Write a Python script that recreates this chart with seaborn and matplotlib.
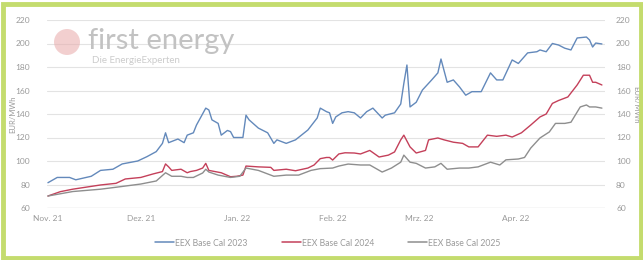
import pandas as pd
import numpy as np
import matplotlib
matplotlib.use("Agg")
import matplotlib.pyplot as plt
from matplotlib.patches import Rectangle, Circle
from matplotlib.lines import Line2D
import seaborn as sns

sns.set_theme(style="white")
plt.rcParams['font.family'] = ['Lato', 'DejaVu Sans']

# ==========================
#  Data
# ==========================
start = pd.Timestamp("2021-11-01")

days_2023 = [0, 3, 7, 9, 14, 17, 21, 24, 29, 32, 35, 37, 38, 39, 42, 44, 45, 47, 48, 51,
             52, 53, 55, 56, 58, 59, 60, 63, 64, 65, 68, 71, 73, 74, 77, 80, 84, 87, 88, 90,
             91, 92, 93, 95, 97, 99, 101, 103, 105, 108, 109, 112, 114, 115, 116, 117, 119, 121, 124, 126,
             127, 129, 131, 133, 135, 137, 140, 143, 145, 147, 150, 152, 155, 158, 159, 161, 163, 165, 167, 169,
             171, 174, 175, 176, 177, 179]
cal_2023 = [81.5, 86, 86, 84, 87, 92, 93, 97.5, 100, 103.7, 108, 115, 124, 115.6, 118.7, 115.6, 122, 124, 130.6, 145,
            143.4, 135, 132, 122, 126, 125, 120, 120, 139, 135, 128, 124, 115, 118, 115, 118, 126.4, 136.6, 145, 142,
            141, 132, 137.5, 141, 142, 141, 136.6, 142, 145, 136.6, 139, 141, 148.5, 166, 181.7, 146, 150, 160.4, 169, 175,
            186.8, 167, 169, 163, 156, 159, 159, 175, 169, 169, 186, 183, 192, 193, 194.5, 193, 200, 198.7, 196, 194.5,
            204.7, 205.5, 203, 197, 200.4, 199.6]

days_2024 = [0, 4, 8, 13, 17, 22, 25, 30, 34, 37, 38, 39, 40, 43, 45, 46, 48, 50, 51, 52,
             56, 59, 61, 63, 64, 68, 72, 73, 77, 80, 84, 86, 88, 90, 91, 92, 94, 96, 99, 101,
             104, 107, 110, 112, 114, 115, 117, 119, 122, 123, 126, 128, 131, 134, 136, 139, 142, 145, 148, 150,
             153, 156, 159, 161, 163, 165, 168, 171, 173, 175, 176, 177, 179]
cal_2024 = [70.2, 73.9, 76, 78, 79.6, 81, 84.7, 86, 89, 91, 97.5, 95, 92, 93, 90, 91, 92, 94, 98, 92,
            90, 86.6, 87, 88, 95.7, 95, 94.6, 92, 93, 91.7, 94, 96.6, 102, 103, 103, 100.8, 106, 107, 106.8, 106,
            109, 103.4, 105, 107.7, 118, 122, 112, 106.8, 109, 118, 119.6, 118, 116, 115, 112, 112, 122, 121, 122, 120.4,
            124, 130.6, 137.5, 140, 149, 151.5, 154.5, 164.7, 173, 173, 167, 167, 164.7]

days_2025 = [0, 8, 17, 23, 30, 35, 38, 40, 43, 45, 47, 50, 51, 52, 55, 59, 62, 64, 68, 73,
             77, 81, 85, 88, 92, 94, 97, 101, 104, 108, 111, 114, 115, 117, 119, 122, 125, 127, 129, 133,
             136, 139, 143, 146, 148, 152, 154, 156, 159, 162, 164, 167, 169, 172, 174, 175, 177, 179]
cal_2025 = [70.2, 74, 76, 78, 80.4, 83, 90, 87, 87, 86, 86, 89.8, 93, 90.6, 88, 86, 87, 94, 92, 87,
            88, 88, 92, 93.5, 94, 95.7, 97.4, 96.6, 96.6, 90.6, 94, 99, 105, 99, 98, 94, 95, 98, 93, 94,
            94, 95, 99, 96.6, 101, 101.7, 103, 111, 119.6, 124.7, 132, 132, 133, 146, 147.7, 146, 146, 145]

series_names = ["EEX Base Cal 2023", "EEX Base Cal 2024", "EEX Base Cal 2025"]
series_colors = ["#6389bb", "#c4405a", "#8e8e8e"]
month_labels = ["Nov. 21", "Dez. 21", "Jan. 22", "Feb. 22", "Mrz. 22", "Apr. 22"]
y_ticks = [60, 80, 100, 120, 140, 160, 180, 200, 220]


def build_frame():
    parts = []
    for name, days, vals in zip(series_names,
                                [days_2023, days_2024, days_2025],
                                [cal_2023, cal_2024, cal_2025]):
        parts.append(pd.DataFrame({
            "date": start + pd.to_timedelta(days, unit="D"),
            "value": vals,
            "series": name,
        }))
    return pd.concat(parts, ignore_index=True)


df = build_frame()

fig = plt.figure(figsize=(6.43, 2.6), dpi=100)
fig.patch.set_facecolor("white")
ax = fig.add_axes([47 / 643, 52 / 260, 558 / 643, 188 / 260])

sns.lineplot(data=df, x="date", y="value", hue="series", palette=series_colors,
             hue_order=series_names, linewidth=1.0, ax=ax, legend=False, zorder=3)

ax.set_ylim(60, 220)
ax.set_xlim(start - pd.Timedelta(days=0.3), start + pd.Timedelta(days=180))
ax.set_yticks(y_ticks)
ax.set_yticklabels([str(v) for v in y_ticks])
month_starts = pd.date_range(start, periods=6, freq="MS")
ax.set_xticks(month_starts)
ax.set_xticklabels(month_labels)
ax.set_xlabel("")
ax.set_ylabel("")

ax.grid(axis="y", color="#e3e3e3", linewidth=0.8)
ax.grid(axis="x", visible=False)
for s in ax.spines.values():
    s.set_visible(False)
ax.axhline(60, color="#d5d5d5", linewidth=0.9, zorder=1)
ax.tick_params(axis="y", length=0, pad=12, labelsize=6, labelcolor="#9a9a9a")
ax.tick_params(axis="x", length=0, pad=5, labelsize=6, labelcolor="#9a9a9a")

sec = ax.secondary_yaxis("right")
sec.set_yticks(y_ticks)
sec.set_yticklabels([str(v) for v in y_ticks])
sec.tick_params(length=0, pad=8, labelsize=6, labelcolor="#9a9a9a")
sec.spines["right"].set_visible(False)

# axis titles on both sides
fig.text(13 / 643, 1 - 114 / 260, "EUR/MWh", fontsize=5.5, color="#9a9a9a",
         rotation=90, ha="center", va="center")
fig.text(636 / 643, 1 - 105 / 260, "EUR/MWh", fontsize=5.5, color="#9a9a9a",
         rotation=270, ha="center", va="center")

# watermark
logo = Circle((67, 260 - 42), 13, transform=None, facecolor="#e8a9a9", alpha=0.55,
              edgecolor="none")
fig.patches.append(logo)
fig.text(88 / 643, 1 - 41 / 260, "first energy", fontsize=21, color="#c2c2c2",
         va="center", ha="left")
fig.text(92 / 643, 1 - 60 / 260, "Die EnergieExperten", fontsize=7, color="#cccccc",
         va="center", ha="left")

# legend
handles = [Line2D([0], [0], color=c, lw=1.1) for c in series_colors]
fig.legend(handles, series_names, loc="center", bbox_to_anchor=(328 / 643, 1 - 243 / 260),
           ncol=3, frameon=False, fontsize=6.2, labelcolor="#9a9a9a",
           handlelength=2.2, handletextpad=0.1, columnspacing=4.0)

# green frame
frame = Rectangle((0.004, 0.006), 0.993, 0.98, transform=fig.transFigure, fill=False,
                  edgecolor="#c4dc6e", linewidth=3.5, zorder=10)
fig.patches.append(frame)

fig.savefig("out.png", dpi=100)
